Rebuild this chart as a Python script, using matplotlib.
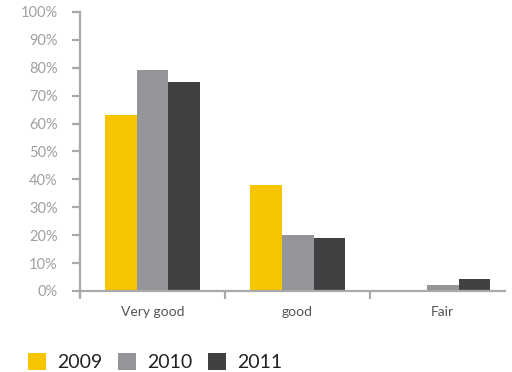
import numpy as np
import matplotlib
matplotlib.use('Agg')
import matplotlib.pyplot as plt
import matplotlib.ticker as mticker
from matplotlib.patches import Patch

categories = ['Very good', 'good', 'Fair']
years = ['2009', '2010', '2011']
vals_2009 = [63, 38, 0.5]
vals_2010 = [79, 20, 2]
vals_2011 = [75, 19, 4.3]

COLORS = ['#F7C400', '#939598', '#414042']
AXIS = '#A7A9AC'
LABEL = '#A0A0A0'

plt.rcParams['font.family'] = ['Lato', 'DejaVu Sans']

fig = plt.figure(figsize=(5.12, 3.72), dpi=100)
ax = fig.add_axes([80 / 512, 0.218, 425 / 512, 0.75])

x = np.arange(len(categories))
w = 0.22
for i, (vals, c) in enumerate(zip([vals_2009, vals_2010, vals_2011], COLORS)):
    ax.bar(x + (i - 1) * w, vals, width=w, color=c, linewidth=0)

ax.set_xlim(-0.5, 2.43)
ax.set_ylim(0, 100)
ax.yaxis.set_major_locator(mticker.MultipleLocator(10))
ax.yaxis.set_major_formatter(mticker.FuncFormatter(lambda v, _: f'{v:.0f}%'))

ax.set_xticks(x)
ax.set_xticklabels(categories)
ax.set_xticks([-0.5, 0.5, 1.5], minor=True)

for s in ['top', 'right']:
    ax.spines[s].set_visible(False)
for s in ['left', 'bottom']:
    ax.spines[s].set_color(AXIS)
    ax.spines[s].set_linewidth(1.6)

ax.tick_params(axis='y', length=6, width=1.6, color=AXIS, labelcolor=LABEL,
               labelsize=10.5, pad=10)
ax.tick_params(axis='x', which='major', length=0, labelcolor='#555555',
               labelsize=10, pad=11)
ax.tick_params(axis='x', which='minor', length=6, width=1.6, color=AXIS)

handles = [Patch(facecolor=c, edgecolor='none') for c in COLORS]
fig.legend(handles, years, loc='lower left', bbox_to_anchor=(0.02, -0.045),
           ncol=3, frameon=False, fontsize=14, handlelength=0.95,
           handleheight=0.95, handletextpad=0.55, columnspacing=0.8,
           labelcolor='#222222')

fig.savefig('out.png', dpi=100)
